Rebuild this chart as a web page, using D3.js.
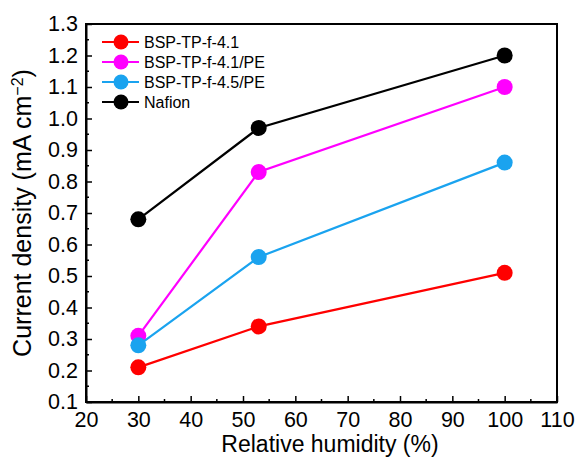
<!DOCTYPE html>
<html>
<head>
<meta charset="utf-8">
<script src="https://cdn.jsdelivr.net/npm/d3@7"></script>
<style>
  html, body { margin: 0; padding: 0; background: #fff; }
  svg { display: block; }
  text { font-family: "Liberation Sans", Arial, sans-serif; fill: #000; }
</style>
</head>
<body>
<svg id="chart" width="576" height="459"></svg>
<script>
const humidity = [30, 53, 100];
const seriesNames = ["BSP-TP-f-4.1", "BSP-TP-f-4.1/PE", "BSP-TP-f-4.5/PE", "Nafion"];
const seriesColors = ["#ff0000", "#ff00ff", "#1aa3ef", "#000000"];
const valsBSP41 = [0.21, 0.34, 0.51];
const valsBSP41PE = [0.31, 0.83, 1.10];
const valsBSP45PE = [0.28, 0.56, 0.86];
const valsNafion = [0.68, 0.97, 1.20];
const xTicks = [20, 30, 40, 50, 60, 70, 80, 90, 100, 110];
const yTicks = [0.1, 0.2, 0.3, 0.4, 0.5, 0.6, 0.7, 0.8, 0.9, 1.0, 1.1, 1.2, 1.3];

const seriesValues = [valsBSP41, valsBSP41PE, valsBSP45PE, valsNafion];

(function () {
const svg = d3.select("#chart");
const mLeft = 86, mRight = 557, mTop = 24, mBottom = 402;

const x = d3.scaleLinear().domain([20, 110]).range([mLeft, mRight]);
const y = d3.scaleLinear().domain([0.1, 1.3]).range([mBottom, mTop]);

const xMinor = d3.range(25, 110, 10);
const yMinor = d3.range(0.15, 1.3, 0.1);

const g = svg.append("g");

const xAxis = d3.axisBottom(x).tickValues(xTicks).tickSizeInner(-6).tickSizeOuter(0).tickPadding(10).tickFormat(d3.format("d"));
const gx = g.append("g").attr("transform", `translate(0,${mBottom})`).call(xAxis);
gx.selectAll(".tick text").style("font-size", "21.5px");
gx.append("g").selectAll("line").data(xMinor).join("line")
  .attr("x1", d => x(d)).attr("x2", d => x(d)).attr("y1", 0).attr("y2", -3)
  .attr("stroke", "#000").attr("stroke-width", 1.5);

const yAxis = d3.axisLeft(y).tickValues(yTicks).tickSizeInner(-6).tickSizeOuter(0).tickPadding(8).tickFormat(d3.format(".1f"));
const gy = g.append("g").attr("transform", `translate(${mLeft},0)`).call(yAxis);
gy.selectAll(".tick text").style("font-size", "21.5px");
gy.append("g").selectAll("line").data(yMinor).join("line")
  .attr("x1", 0).attr("x2", 3).attr("y1", d => y(d)).attr("y2", d => y(d))
  .attr("stroke", "#000").attr("stroke-width", 1.5);

[gx, gy].forEach(a => {
  a.selectAll(".tick line").attr("stroke-width", 1.5);
  a.select(".domain").attr("stroke-width", 2);
});

g.append("rect").attr("x", mLeft).attr("y", mTop).attr("width", mRight - mLeft).attr("height", mBottom - mTop)
  .attr("fill", "none").attr("stroke", "#000").attr("stroke-width", 2);

const line = d3.line().x((d, i) => x(humidity[i])).y(d => y(d));
seriesValues.forEach((vals, si) => {
  const sg = g.append("g");
  sg.append("path").datum(vals).attr("d", line)
    .attr("fill", "none").attr("stroke", seriesColors[si]).attr("stroke-width", 2.2);
  sg.selectAll("circle").data(vals).join("circle")
    .attr("cx", (d, i) => x(humidity[i])).attr("cy", d => y(d)).attr("r", 8)
    .attr("fill", seriesColors[si]);
});

const lg = g.append("g").attr("transform", "translate(102,42)");
seriesNames.forEach((name, i) => {
  const row = lg.append("g").attr("transform", `translate(0,${i * 20})`);
  row.append("line").attr("x1", 0).attr("x2", 37).attr("y1", 0).attr("y2", 0)
    .attr("stroke", seriesColors[i]).attr("stroke-width", 2.2);
  row.append("circle").attr("cx", 19).attr("cy", 0).attr("r", 7.5).attr("fill", seriesColors[i]);
  row.append("text").attr("x", 42).attr("y", 0).attr("dy", "0.35em")
    .style("font-size", "16px").text(name);
});

svg.append("text").attr("x", 330).attr("y", 452)
  .attr("text-anchor", "middle").style("font-size", "23px").text("Relative humidity (%)");

const yt = svg.append("text")
  .attr("transform", `translate(31,${(mTop + mBottom) / 2}) rotate(-90)`)
  .attr("text-anchor", "middle").style("font-size", "25px");
yt.append("tspan").text("Current density (mA cm");
yt.append("tspan").attr("baseline-shift", "super").style("font-size", "16px").text("−2");
yt.append("tspan").text(")");
})();
</script>
</body>
</html>
